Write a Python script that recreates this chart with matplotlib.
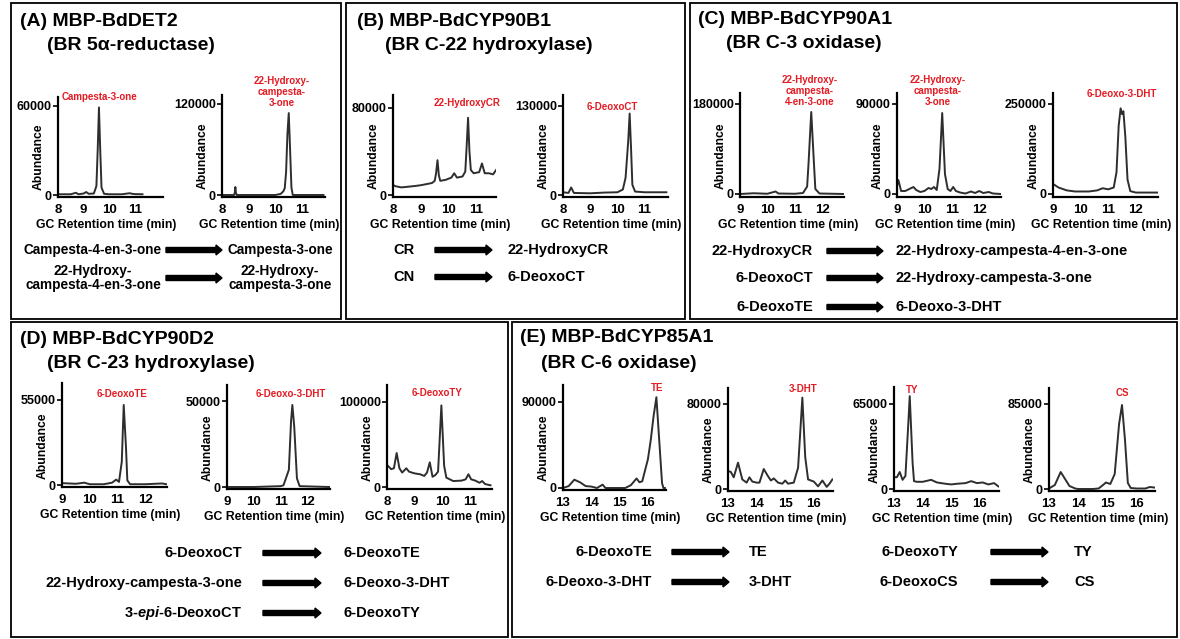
import matplotlib
matplotlib.use("Agg")
import matplotlib.pyplot as plt
from matplotlib.patches import Rectangle, FancyArrow

plt.rcParams['font.family'] = ['Liberation Sans', 'DejaVu Sans']
plt.rcParams['font.weight'] = 'bold'
plt.rcParams['mathtext.fontset'] = 'custom'
plt.rcParams['mathtext.rm'] = 'Liberation Sans:bold'
plt.rcParams['mathtext.it'] = 'Liberation Sans:italic:bold'

W, H = 1180, 639
RED = '#e41b23'
TRACE = '#2e2e2e'

# ---- chromatogram traces: retention time (min) / abundance ----
# (A) BdDET2
a1_t = [8.0, 8.5, 8.7, 8.8, 9.0, 9.1, 9.2, 9.4, 9.5, 9.55, 9.6, 9.65, 9.7, 9.8, 10.0, 10.5, 10.8, 10.9, 11.0, 11.3]
a1_v = [500, 500, 1500, 500, 1000, 2000, 800, 1000, 6000, 30000, 59000, 30000, 5000, 800, 500, 500, 1200, 800, 600, 500]
a2_t = [8.0, 8.45, 8.48, 8.5, 8.52, 8.55, 9.0, 10.0, 10.2, 10.3, 10.35, 10.4, 10.45, 10.5, 10.55, 10.6, 10.65, 11.0, 11.8]
a2_v = [0, 0, 3000, 10500, 3000, 0, 0, 0, 1500, 5000, 9000, 30000, 80000, 108000, 60000, 10000, 0, 0, 0]
# (B) BdCYP90B1
b1_t = [8.0, 8.1, 8.3, 8.5, 8.8, 9.0, 9.2, 9.4, 9.5, 9.55, 9.6, 9.65, 9.7, 9.9, 10.1, 10.2, 10.3, 10.5, 10.6,
        10.65, 10.7, 10.75, 10.8, 10.9, 11.0, 11.1, 11.2, 11.3, 11.45, 11.6, 11.75, 11.8]
b1_v = [9200, 8000, 7000, 7500, 8300, 9000, 10000, 11000, 13000, 20000, 32000, 18000, 13000, 14000, 16000, 20000,
        16000, 17000, 21500, 45000, 71000, 40000, 23000, 20000, 20500, 21000, 29000, 20000, 20000, 19000, 24500, 22000]
b2_t = [8.0, 8.2, 8.3, 8.4, 9.0, 9.5, 10.0, 10.2, 10.3, 10.4, 10.45, 10.5, 10.55, 10.65, 11.0, 11.8]
b2_v = [4000, 3000, 11000, 3000, 2500, 3500, 4000, 8000, 25000, 80000, 119000, 70000, 15000, 5000, 4000, 4000]
# (C) BdCYP90A1
c1_t = [9.0, 9.5, 10.0, 10.3, 10.4, 11.0, 11.3, 11.45, 11.5, 11.6, 11.7, 11.75, 11.9, 12.8]
c1_v = [0, 1500, 500, 5000, 1000, 500, 2000, 15000, 60000, 164000, 60000, 10000, 1000, 0]
c2_t = [9.0, 9.05, 9.15, 9.3, 9.45, 9.6, 9.7, 9.85, 10.0, 10.15, 10.25, 10.35, 10.45, 10.55, 10.65, 10.75,
        10.85, 10.95, 11.05, 11.15, 11.3, 11.5, 11.7, 11.85, 12.0, 12.15, 12.35, 12.5, 12.8]
c2_v = [8000, 14000, 3000, 3000, 5000, 7000, 4000, 2000, 3000, 6000, 5000, 7000, 4000, 25000, 81000, 20000,
        5000, 3000, 7000, 3000, 1500, 500, 2500, 1000, 3000, 1000, 2000, 500, 0]
c3_t = [9.0, 9.2, 9.5, 9.8, 10.0, 10.3, 10.6, 10.8, 11.0, 11.2, 11.3, 11.38, 11.45, 11.5, 11.55, 11.62, 11.7, 11.8, 12.0, 12.8]
c3_v = [28000, 18000, 10000, 7000, 7000, 7000, 10000, 16000, 13000, 18000, 60000, 190000, 238000, 222000,
        230000, 160000, 40000, 8000, 4000, 4000]
# (D) BdCYP90D2
d1_t = [9.0, 9.5, 9.8, 10.0, 10.5, 10.8, 10.95, 11.05, 11.15, 11.22, 11.3, 11.35, 11.45, 12.0, 12.6, 12.75]
d1_v = [1200, 800, 1500, 500, 500, 1500, 3500, 2000, 15000, 51800, 25000, 3000, 500, 500, 1000, 500]
d2_t = [9.0, 10.0, 11.0, 11.1, 11.3, 11.38, 11.43, 11.5, 11.6, 11.7, 12.8]
d2_v = [0, 0, 500, 1000, 10000, 38000, 47700, 35000, 5000, 500, 0]
d3_t = [8.0, 8.15, 8.25, 8.35, 8.45, 8.55, 8.7, 8.8, 9.0, 9.2, 9.35, 9.45, 9.55, 9.65, 9.75, 9.85, 9.97,
        10.07, 10.15, 10.4, 10.7, 10.85, 10.95, 11.05, 11.2, 11.35, 11.45, 11.55, 11.75]
d3_v = [26000, 21000, 22000, 40000, 22000, 17000, 22000, 18000, 16000, 15000, 13000, 17000, 29000, 12000,
        14000, 18000, 96000, 25000, 11000, 7000, 7500, 9000, 15000, 9000, 7500, 5000, 7000, 3500, 2000]
# (E) BdCYP85A1
e1_t = [13.0, 13.2, 13.4, 13.6, 13.8, 14.0, 14.2, 14.4, 14.5, 15.0, 15.2, 15.4, 15.6, 15.7, 15.8, 16.0,
        16.1, 16.2, 16.3, 16.4, 16.5, 16.55, 16.6]
e1_v = [0, 2000, 8700, 6000, 2000, 1500, 0, 3500, 0, 0, 0, 3000, 10000, 6000, 7000, 30000,
        50000, 75000, 95000, 50000, 5000, 0, 0]
e2_t = [13.0, 13.1, 13.2, 13.35, 13.5, 13.65, 13.75, 13.85, 14.0, 14.1, 14.25, 14.4, 14.5, 14.6, 14.75,
        14.9, 15.0, 15.1, 15.3, 15.45, 15.6, 15.7, 15.8, 16.0, 16.15, 16.3, 16.45, 16.55, 16.65]
e2_v = [17000, 16000, 11000, 24800, 9000, 6000, 11000, 7000, 6000, 6000, 18800, 12000, 8000, 10000, 6000,
        5000, 8000, 5000, 6000, 20000, 86000, 30000, 9000, 7000, 2500, 8000, 2000, 5000, 9000]
e3_t = [13.0, 13.1, 13.2, 13.3, 13.4, 13.5, 13.55, 13.65, 13.7, 13.8, 14.0, 14.3, 14.5, 14.8, 15.0, 15.2,
        15.5, 15.7, 15.9, 16.1, 16.3, 16.5, 16.65]
e3_v = [9000, 9000, 13000, 7000, 10000, 50000, 71000, 20000, 6000, 5500, 5500, 7000, 5000, 4000, 3500, 4000,
        4500, 6000, 4500, 5000, 3500, 4500, 2000]
e4_t = [13.0, 13.2, 13.4, 13.55, 13.7, 13.9, 14.0, 14.5, 14.7, 14.85, 14.95, 15.1, 15.25, 15.4, 15.5,
        15.6, 15.7, 15.8, 16.0, 16.3, 16.45, 16.6]
e4_v = [500, 4000, 17000, 10000, 3000, 500, 0, 0, 500, 4000, 6500, 5000, 15000, 65000, 84000,
        50000, 6000, 1000, 500, 500, 2000, 1500]

# top y tick of each chromatogram
top_ticks = [60000, 120000, 80000, 130000, 180000, 90000, 250000, 55000, 50000, 100000, 90000, 80000, 65000, 85000]

# red peak labels
peak_labels = ['Campesta-3-one', '22-Hydroxy-\ncampesta-\n3-one', '22-HydroxyCR', '6-DeoxoCT',
               '22-Hydroxy-\ncampesta-\n4-en-3-one', '22-Hydroxy-\ncampesta-\n3-one', '6-Deoxo-3-DHT',
               '6-DeoxoTE', '6-Deoxo-3-DHT', '6-DeoxoTY', 'TE', '3-DHT', 'TY', 'CS']

traces = [(a1_t, a1_v), (a2_t, a2_v), (b1_t, b1_v), (b2_t, b2_v), (c1_t, c1_v), (c2_t, c2_v), (c3_t, c3_v),
          (d1_t, d1_v), (d2_t, d2_v), (d3_t, d3_v), (e1_t, e1_v), (e2_t, e2_v), (e3_t, e3_v), (e4_t, e4_v)]

x_starts = [8, 8, 8, 8, 9, 9, 9, 9, 9, 8, 13, 13, 13, 13]

# panel titles
titles = [('(A) MBP-BdDET2', '(BR 5\u03b1-reductase)'),
          ('(B) MBP-BdCYP90B1', '(BR C-22 hydroxylase)'),
          ('(C) MBP-BdCYP90A1', '(BR C-3 oxidase)'),
          ('(D) MBP-BdCYP90D2', '(BR C-23 hydroxylase)'),
          ('(E) MBP-BdCYP85A1', '(BR C-6 oxidase)')]

# reactions: substrates -> products
a_sub = ['Campesta-4-en-3-one', '22-Hydroxy-\ncampesta-4-en-3-one']
a_prod = ['Campesta-3-one', '22-Hydroxy-\ncampesta-3-one']
b_sub = ['CR', 'CN']
b_prod = ['22-HydroxyCR', '6-DeoxoCT']
c_sub = ['22-HydroxyCR', '6-DeoxoCT', '6-DeoxoTE']
c_prod = ['22-Hydroxy-campesta-4-en-3-one', '22-Hydroxy-campesta-3-one', '6-Deoxo-3-DHT']
d_sub = ['6-DeoxoCT', '22-Hydroxy-campesta-3-one', r'3-$\mathit{epi}$-6-DeoxoCT']
d_prod = ['6-DeoxoTE', '6-Deoxo-3-DHT', '6-DeoxoTY']
e_sub = ['6-DeoxoTE', '6-Deoxo-3-DHT']
e_prod = ['TE', '3-DHT']
e2_sub = ['6-DeoxoTY', '6-DeoxoCS']
e2_prod = ['TY', 'CS']

# ---- layout (pixels) ----
# y-axis x, x-axis end, px per min, y of 0, y of top tick, axis top, axis bottom, peak label centre
chart_px = [
    (58, 163, 25.6, 195, 106, 97, 197, (100, 97)),
    (222, 325, 26.7, 195, 104, 95, 197, (282, 92)),
    (393, 496, 27.8, 195, 108, 95, 197, (467, 103)),
    (563, 668, 27.2, 195, 106, 95, 197, (612, 107)),
    (740, 844, 27.4, 194, 104, 93, 197, (810, 91)),
    (897, 1001, 27.4, 194, 104, 93, 197, (938, 91)),
    (1053, 1158, 27.6, 194, 104, 93, 197, (1122, 94)),
    (62, 167, 27.8, 485, 400, 383, 487, (122, 394)),
    (227, 330, 26.9, 487, 401, 385, 489, (291, 394)),
    (387, 492, 27.6, 487, 402, 385, 489, (437, 393)),
    (563, 666, 28.3, 488, 402, 385, 490, (657, 388)),
    (728, 833, 28.6, 489, 404, 388, 491, (803, 389)),
    (894, 999, 28.6, 489, 404, 387, 491, (912, 390)),
    (1049, 1155, 29.2, 489, 404, 388, 491, (1122, 393)),
]
boxes = [(11, 3, 341, 319), (346, 3, 685, 319), (690, 3, 1177, 319), (11, 322, 508, 637), (512, 322, 1177, 637)]
title_px = [(20, 22, 47, 45), (357, 22, 385, 45), (698, 20, 726, 43), (20, 339, 47, 363), (520, 337, 541, 363)]
# (subs, prods, sub x, sub ha, arrow x0, arrow x1, prod x, prod ha, rows y, font size)
reactions = [
    (a_sub, a_prod, 93, 'center', 166, 222, 280, 'center', [250, 278], 9.8),
    (b_sub, b_prod, 393, 'left', 435, 492, 507, 'left', [250, 277], 10.5),
    (c_sub, c_prod, 813, 'right', 827, 883, 896, 'left', [251, 278, 307], 10.5),
    (d_sub, d_prod, 242, 'right', 263, 321, 343, 'left', [553, 583, 613], 10.5),
    (e_sub, e_prod, 652, 'right', 672, 729, 749, 'left', [552, 582], 10.5),
    (e2_sub, e2_prod, 958, 'right', 991, 1048, 1074, 'left', [552, 582], 10.5),
]

fig = plt.figure(figsize=(W / 100, H / 100), dpi=100)
fig.patch.set_facecolor('white')

# overlay in pixel coordinates
ov = fig.add_axes([0, 0, 1, 1])
ov.set_xlim(0, W)
ov.set_ylim(H, 0)
ov.axis('off')

for l, t, r, b in boxes:
    ov.add_patch(Rectangle((l, t), r - l, b - t, fill=False, ec='black', lw=1.3))

for (t1, t2), (x1, y1, x2, y2) in zip(titles, title_px):
    ov.text(x1, y1, t1, fontsize=14, ha='left', va='center')
    ov.text(x2, y2, t2, fontsize=14, ha='left', va='center')

for subs, prods, sx, sha, ax0, ax1, px, pha, ys, fs in reactions:
    for s, p, y in zip(subs, prods, ys):
        ov.text(sx, y, s, fontsize=fs, ha=sha, va='center', ma='center', linespacing=0.95)
        ov.text(px, y, p, fontsize=fs, ha=pha, va='center', ma='center', linespacing=0.95)
        ov.add_patch(FancyArrow(ax0, y, ax1 - ax0, 0, width=5, head_width=10, head_length=6,
                                length_includes_head=True, color='black'))

# chromatograms
for (tt, vv), top, lab, xs, (xa, xe, ppm, y0, ytk, ytop, ybot, (lx, ly)) in zip(
        traces, top_ticks, peak_labels, x_starts, chart_px):
    ax = fig.add_axes([xa / W, 1 - ybot / H, (xe - xa) / W, (ybot - ytop) / H])
    upp = top / (y0 - ytk)
    ax.plot(tt, vv, color=TRACE, lw=1.4, solid_joinstyle='round')
    ax.set_xlim(xs, xs + (xe - xa) / ppm)
    ax.set_ylim(-(ybot - y0) * upp, (y0 - ytop) * upp)
    ax.set_facecolor('none')
    for s in ['top', 'right']:
        ax.spines[s].set_visible(False)
    for s in ['left', 'bottom']:
        ax.spines[s].set_linewidth(1.6)
    ax.set_yticks([0, top])
    ax.set_yticklabels(['0', str(top)])
    ax.set_xticks(range(xs, xs + 4))
    ax.tick_params(axis='y', length=3.5, width=1.2, pad=1, labelsize=9)
    ax.tick_params(axis='x', length=0, pad=5, labelsize=9.5)
    ov.text(xa - 19, ytop + 0.6 * (ybot - ytop), 'Abundance', rotation=90, fontsize=8.7,
            ha='center', va='center')
    ov.text((xa + xe) / 2 - 4, ybot + 28, 'GC Retention time (min)', fontsize=8.8,
            ha='center', va='center')
    ov.text(lx, ly, lab, color=RED, fontsize=7, ha='center', va='center', linespacing=1.15)

fig.savefig('out.png', dpi=100)
